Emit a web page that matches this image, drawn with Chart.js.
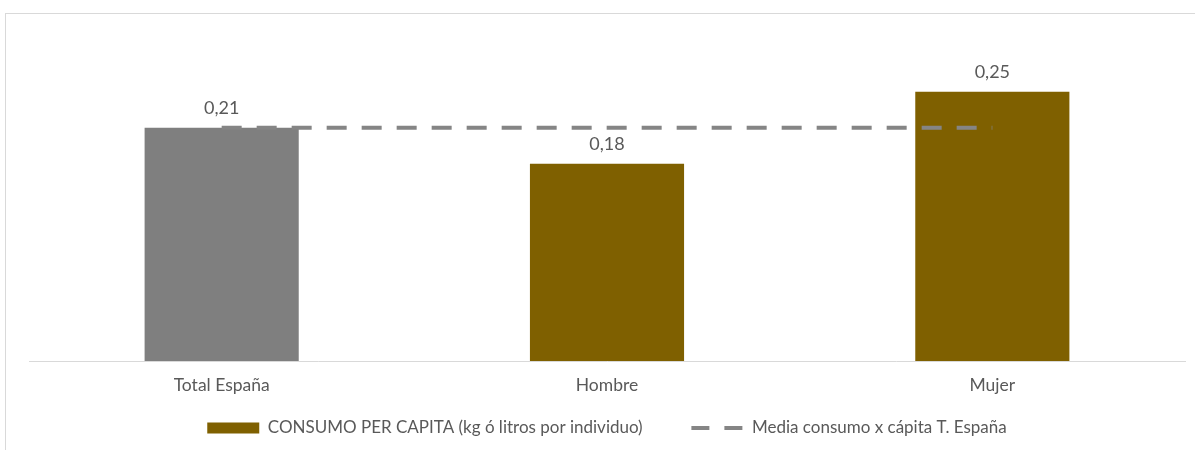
<!DOCTYPE html>
<html>
<head>
<meta charset="utf-8">
<script src="https://cdn.jsdelivr.net/npm/chart.js@4/dist/chart.umd.min.js"></script>
<style>
  html, body { margin: 0; padding: 0; background: #fff; overflow: hidden; }
  #frame { position: absolute; left: 5px; top: 13px; width: 1300px; height: 600px;
           border: 1px solid #d9d9d9; }
  #wrap { position: absolute; left: 0; top: 0; width: 1195px; height: 450px; }
</style>
</head>
<body>
<div id="frame"></div>
<div id="wrap"><canvas id="chart"></canvas></div>
<script>
// data
const categories = ['Total España', 'Hombre', 'Mujer'];
const consumo = [0.214, 0.181, 0.247];
const mediaTotal = [0.214, 0.214, 0.214];
const seriesNames = ['CONSUMO PER CAPITA (kg ó litros por individuo)', 'Media consumo x cápita T. España'];

const GRAY = '#7f7f7f';
const BROWN = '#7f6000';
const LINE = '#858585';
const TEXT = '#595959';
const FONT = 'Lato, "Open Sans", sans-serif';

// value labels above the bars, Excel style with decimal comma
const barLabels = {
  id: 'barLabels',
  afterDatasetsDraw(chart) {
    const ctx = chart.ctx;
    const meta = chart.getDatasetMeta(0);
    ctx.save();
    ctx.font = '18px ' + FONT;
    ctx.fillStyle = TEXT;
    ctx.textAlign = 'center';
    ctx.textBaseline = 'alphabetic';
    meta.data.forEach((bar, i) => {
      const txt = consumo[i].toFixed(2).replace('.', ',');
      ctx.fillText(txt, bar.x, bar.y - 14);
    });
    ctx.restore();
  }
};

const ctx = document.getElementById('chart').getContext('2d');
new Chart(ctx, {
  type: 'bar',
  data: {
    labels: categories,
    datasets: [
      {
        label: seriesNames[0],
        data: consumo,
        backgroundColor: [GRAY, BROWN, BROWN],
        borderWidth: 0,
        categoryPercentage: 1,
        barPercentage: 0.4,
        order: 1,
      },
      {
        type: 'line',
        label: seriesNames[1],
        data: mediaTotal,
        borderColor: LINE,
        borderWidth: 4,
        borderDash: [20, 15],
        pointRadius: 0,
        fill: false,
        order: 0,
      },
    ],
  },
  options: {
    responsive: true,
    maintainAspectRatio: false,
    animation: false,
    layout: { padding: { left: 29, right: 10, top: 34, bottom: 3.5 } },
    plugins: {
      tooltip: { enabled: false },
      legend: {
        position: 'bottom',
        labels: {
          color: TEXT,
          font: { family: FONT, size: 17 },
          usePointStyle: true,
          pointStyleWidth: 52,
          boxHeight: 11,
          padding: 10.5,
          sort: (a, b) => a.datasetIndex - b.datasetIndex,
          generateLabels(chart) {
            const items = Chart.defaults.plugins.legend.labels.generateLabels(chart);
            items.forEach(it => {
              if (it.datasetIndex === 0) {
                it.pointStyle = 'rect';
                it.fillStyle = BROWN;
                it.strokeStyle = BROWN;
                it.lineWidth = 0;
                // wider gap before the second entry, like Excel
                it.text += '\u2003\u2003\u2003';
              } else {
                it.pointStyle = 'line';
                it.strokeStyle = LINE;
                it.lineWidth = 4;
                it.lineDash = [18, 15];
              }
            });
            return items;
          },
        },
      },
    },
    scales: {
      x: {
        grid: { display: false, drawTicks: false },
        border: { color: '#d9d9d9', width: 1 },
        ticks: { color: TEXT, font: { family: FONT, size: 17.5 }, padding: 13.5 },
      },
      y: { display: false, min: 0, max: 0.3 },
    },
  },
  plugins: [barLabels],
});
</script>
</body>
</html>
